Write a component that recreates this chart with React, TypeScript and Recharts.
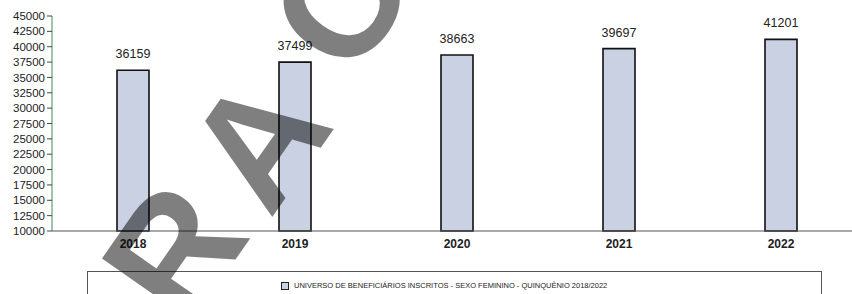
import { BarChart, Bar, XAxis, YAxis, LabelList } from "recharts";

const years = ["2018", "2019", "2020", "2021", "2022"];
const enrolled = [36159, 37499, 38663, 39697, 41201];
const yTicks = [
  10000, 12500, 15000, 17500, 20000, 22500, 25000, 27500, 30000, 32500, 35000,
  37500, 40000, 42500, 45000,
];
const seriesName =
  "UNIVERSO DE BENEFICIÁRIOS INSCRITOS - SEXO FEMININO - QUINQUÊNIO 2018/2022";
const watermark = ["R", "A", "O"];

const data = years.map((year, i) => ({ year, value: enrolled[i] }));

const font = "'Liberation Sans Narrow', 'Liberation Sans', Arial, sans-serif";

// watermark letters, centres
const wmSize = 160;
const wmAngle = -55;
const wmCentres = [
  [172, 250],
  [256, 140],
  [340, -2],
];

export default function App() {
  return (
    <div
      style={{
        position: "absolute",
        left: 0,
        top: 0,
        width: 852,
        height: 294,
        overflow: "hidden",
        background: "#fff",
        fontFamily: font,
      }}
    >
      <BarChart
        width={862}
        height={294}
        data={data}
        margin={{ top: 16, right: 0, bottom: 33, left: 0 }}
        barSize={32}
      >
        <XAxis
          dataKey="year"
          height={30}
          tickLine={false}
          stroke="#555"
          tick={{ fill: "#222", fontSize: 12, fontWeight: 700, fontFamily: font }}
        />
        <YAxis
          width={52}
          domain={[10000, 45000]}
          ticks={yTicks}
          interval={0}
          stroke="#3d8a55"
          tickSize={5}
          tickLine={{ stroke: "#444" }}
          tick={{ fill: "#222", fontSize: 11.5, fontFamily: font }}
        />
        <Bar
          dataKey="value"
          fill="#c9d1e2"
          stroke="#111"
          strokeWidth={1.6}
          isAnimationActive={false}
        >
          <LabelList
            dataKey="value"
            position="top"
            offset={12}
            style={{ fill: "#222", fontSize: 12.5, fontFamily: font }}
          />
        </Bar>
      </BarChart>

      <div
        style={{
          position: "absolute",
          left: 87,
          top: 271,
          width: 735,
          height: 40,
          border: "1px solid #555",
          boxSizing: "border-box",
          fontSize: 7.5,
          color: "#222",
        }}
      >
        <div
          style={{
            position: "absolute",
            left: 193,
            top: 9,
            whiteSpace: "nowrap",
            display: "flex",
            alignItems: "center",
          }}
        >
          <span
            style={{
              display: "inline-block",
              width: 6,
              height: 6,
              border: "1px solid #222",
              background: "#c9d1e2",
              marginRight: 5,
            }}
          />
          {seriesName}
        </div>
      </div>

      <svg
        width={852}
        height={294}
        style={{ position: "absolute", left: 0, top: 0, pointerEvents: "none" }}
      >
        {watermark.map((ch, i) => {
          const [cx, cy] = wmCentres[i];
          return (
            <text
              key={ch + i}
              x={cx}
              y={cy + wmSize * 0.36}
              textAnchor="middle"
              fontFamily="'Liberation Sans', Arial, sans-serif"
              fontWeight={700}
              fontSize={wmSize}
              fill="#000"
              fillOpacity={0.5}
              transform={`rotate(${wmAngle} ${cx} ${cy})`}
            >
              {ch}
            </text>
          );
        })}
      </svg>
    </div>
  );
}
